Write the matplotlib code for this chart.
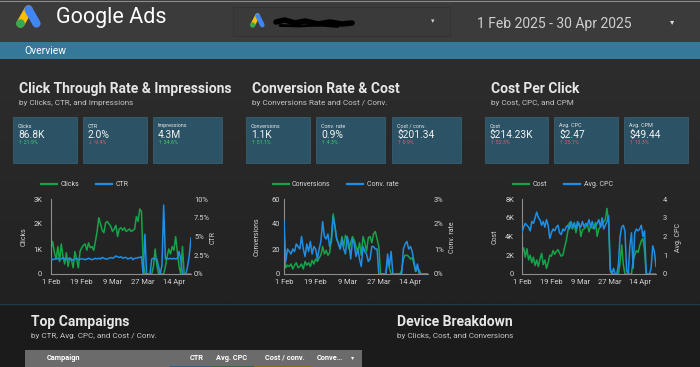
import numpy as np
import matplotlib
matplotlib.use("Agg")
import matplotlib.pyplot as plt
from matplotlib.patches import Rectangle, Circle
from matplotlib.colors import LinearSegmentedColormap

plt.rcParams['font.family'] = ['Roboto', 'DejaVu Sans']

W, H = 700, 367

# ---- data (daily, 1 Feb onwards) ----
tick_days = [0, 18, 36, 54, 72]
tick_labels = ['1 Feb', '19 Feb', '9 Mar', '27 Mar', '14 Apr']

clicks = [1000, 1300, 850, 600, 1100, 500, 1200, 700, 400, 850, 300, 650, 550, 250, 900, 600, 250,
          900, 1050, 1150, 1200, 950, 1250, 1050, 1100, 950, 1300,
          1700, 2250, 2000, 1750, 1650, 2050,
          2100, 2000, 1900, 1700, 1800, 1950, 1500, 1800, 1850, 1750, 1850, 1700, 1750, 1800, 1700, 1750, 1800,
          2300, 2100, 2600, 2500,
          450, 0, 0, 0, 0, 0, 300, 1000, 350, 0, 0, 0, 0, 300, 700, 1000, 800, 1100, 950, 1500, 900, 300,
          0, 1100, 0, 0, 0, 0, 0]
ctr = [2.1, 1.9, 2.0, 2.0, 2.1, 1.9, 2.0, 2.2, 2.0, 1.9,
       2.1, 1.9, 2.0, 1.8, 2.0, 2.1, 1.9, 2.0, 2.0, 2.0,
       1.9, 2.0, 2.1, 2.0, 1.9, 2.0, 2.1, 2.0, 2.1, 2.0,
       2.2, 2.1, 2.0, 2.0, 2.1, 2.2, 2.1, 2.2, 2.4, 2.3,
       2.2, 2.3, 2.1, 2.2, 2.2, 2.0, 2.1, 2.2, 1.9, 2.1,
       2.1, 2.2, 2.2, 2.3,
       0, 5.3, 0, 0, 0, 2.0, 2.1, 2.0, 2.0, 1.0, 0, 1.2, 9.2, 2.0, 2.1, 2.0, 2.1, 2.0, 2.1, 2.0,
       2.1, 3.0, 2.0, 0, 0, 0, 1.0, 2.5, 4.8]

conversions = [22, 5, 7, 6, 8, 4, 7, 9, 5, 6, 8, 4, 10, 7, 9, 6, 11, 8, 12, 10, 13,
               15, 22, 16, 19, 15, 17, 30, 48, 38, 28,
               25, 20, 30, 22, 31, 28, 20, 25, 30, 27, 22, 18, 25, 15, 30, 25, 18, 29, 30, 25, 32, 34, 28,
               22, 0, 0, 0, 0, 12, 5, 0, 0, 0, 0, 0, 0, 3, 12, 15, 15, 14, 12, 13, 8, 2, 5, 3,
               0, 0, 0, 0, 0]
conv_rate = [2.1, 0.5, 1.0, 0.9, 0.8, 1.0, 0.9, 1.2, 1.1, 1.0, 1.5, 1.0, 0.7, 1.2, 0.9, 1.3, 0.8, 1.1, 1.0, 0.6, 1.0,
             1.3, 2.1, 1.5, 1.4, 1.6, 1.1, 1.3, 2.3, 1.9, 1.4,
             1.2, 1.0, 1.4, 1.0, 0.8, 1.5, 1.2, 0.6, 1.4, 1.2, 0.7, 1.0, 0.6, 0.3, 1.1, 0.9, 0.8, 0.5, 0.6, 1.1,
             1.1, 1.0, 1.0,
             0, 0, 0, 0, 0, 0.8, 0.3, 0.9, 0, 0, 0, 0, 0, 0, 1.0, 1.2, 1.3, 1.0, 1.1, 0.9, 0.5, 0.1, 0.4,
             0, 0, 0, 0, 0, 0]

cost = [2.3, 2.8, 1.8, 2.7, 1.5, 2.0, 1.2, 1.8, 0.9, 1.5, 0.8, 1.6, 2.2, 1.0, 1.5, 0.6, 1.2,
        2.0, 1.9, 2.5, 2.1, 2.4, 2.6, 2.2, 1.9, 2.0, 2.8,
        3.5, 4.5, 5.5, 5.0, 4.8, 5.5, 4.4, 5.2, 5.4, 4.0, 4.7, 4.8, 5.0, 5.3, 4.5, 5.1, 4.9, 5.0, 5.5, 4.0,
        4.8, 5.0, 5.3, 5.6, 5.8, 7.0, 5.5,
        0.3, 0, 0, 0, 0, 0, 1.2, 3.1, 1.0, 0, 0, 0, 0, 0, 1.5, 2.0, 2.5, 2.3, 3.0, 3.5, 3.8, 2.5,
        0, 0, 0, 0, 0, 0, 0]  # thousands
avg_cpc = [2.2, 2.5, 2.7, 2.6, 2.5, 2.3, 2.8, 2.7, 3.0, 3.3, 3.0, 2.9, 2.6, 2.8, 2.5, 2.9, 2.6,
           1.9, 2.2, 2.4, 2.3, 2.5, 2.6, 2.2, 2.1, 2.4, 2.3,
           2.5, 2.6, 2.4, 2.8, 2.5, 2.7, 2.4, 2.8, 2.6, 2.5, 2.8, 2.5, 2.7, 2.6, 2.9, 2.5, 2.8, 2.4, 2.6,
           2.7, 2.9, 2.5, 3.0, 2.4, 2.6, 2.8, 3.1,
           0.3, 0, 0.3, 0, 0, 0.5, 2.0, 2.5, 2.6, 2.3, 0.2, 0, 1.5, 2.2, 0.3, 2.2, 2.4, 2.3, 2.4, 2.6,
           2.0, 2.3, 0, 0, 0, 0.3, 1.5, 1.2, 0.4]

section_titles = ['Click Through Rate & Impressions', 'Conversion Rate & Cost', 'Cost Per Click']
section_subtitles = ['by Clicks, CTR, and Impressions', 'by Conversions Rate and Cost / Conv.',
                     'by Cost, CPC, and CPM']
kpi_names = ['Clicks', 'CTR', 'Impressions', 'Conversions', 'Conv. rate', 'Cost / conv.',
             'Cost', 'Avg. CPC', 'Avg. CPM']
kpi_values = ['86.8K', '2.0%', '4.3M', '1.1K', '0.9%', '$201.34', '$214.23K', '$2.47', '$49.44']
kpi_changes = ['21.9%', '-9.4%', '34.6%', '51.1%', '4.3%', '0.9%', '52.5%', '25.1%', '13.3%']
kpi_up = [True, False, True, True, True, True, True, True, True]
kpi_good = [True, False, True, True, True, False, False, False, False]

table_cols = ['Campaign', 'CTR', 'Avg. CPC', 'Cost / conv.', 'Conve\u2026']

GREEN = '#17a34a'
BLUE = '#1e8fe6'
TXT = '#d6d6d6'

fig = plt.figure(figsize=(W / 100, H / 100), dpi=100)
bg = fig.add_axes([0, 0, 1, 1])
bg.set_axis_off()

# body gradient
cmap = LinearSegmentedColormap.from_list('body', ['#2d2d2d', '#212121'])
bg.imshow(np.linspace(0, 1, 100).reshape(-1, 1), extent=(0, W, 303, 59), aspect='auto', cmap=cmap)
bg.add_patch(Rectangle((0, 303), W, 64, fc='#1b1b1b', ec='none'))
bg.plot([0, W], [303.5, 303.5], color='#1f3b47', lw=1)
bg.add_patch(Rectangle((0, 0), W, 41.5, fc='#3b3b3b', ec='none'))
bg.add_patch(Rectangle((0, 41.5), W, 17.5, fc='#34789a', ec='none'))
bg.plot([0, W], [0.5, 0.5], color='#8a8a8a', lw=0.8)
bg.set_xlim(0, W)
bg.set_ylim(H, 0)


def ads_logo(cx, top, bot, half, lw, r):
    bg.plot([cx - half, cx], [bot, top], color='#fbbc04', lw=lw, solid_capstyle='round')
    bg.plot([cx, cx + half], [top, bot], color='#4285f4', lw=lw, solid_capstyle='round')
    bg.add_patch(Circle((cx - half, bot), r, fc='#34a853', ec='none', zorder=5))


ads_logo(28.5, 9.5, 23.5, 8, 6.0, 4.3)
bg.text(56, 17.5, 'Google Ads', color='white', fontsize=15.5, va='center', ha='left')

# account dropdown
bg.add_patch(Rectangle((234, 9), 217, 28, fc='#2a2a2a', ec='none', alpha=0.6))
bg.add_patch(Rectangle((233, 7), 217, 29, fc='#3a3a3a', ec='#333333', lw=0.6))
ads_logo(257.5, 15.5, 25, 4.8, 3.4, 2.6)
bg.plot([276, 285, 295, 305, 318, 330, 342, 352], [22, 20, 23, 21, 24, 22, 24, 23], color='black', lw=4,
        solid_capstyle='round')
bg.plot([280, 300, 320, 338], [25.5, 26, 25, 26.5], color='black', lw=2, solid_capstyle='round')
bg.text(433, 21.5, '\u25be', color='#cccccc', fontsize=5, ha='center', va='center')

bg.text(477, 24, '1 Feb 2025 - 30 Apr 2025', color='#cfcfcf', fontsize=10, va='center', ha='left')
bg.text(672, 22.5, '\u25be', color='#dddddd', fontsize=6, ha='center', va='center')
bg.text(24.5, 50.5, 'Overview', color='white', fontsize=7.5, va='center', ha='left')

# section headers and KPI cards
title_x = [19, 252, 491]
card_x = [(13, 77), (83, 147), (153, 222), (246, 310), (316, 385), (392, 461),
          (485, 548), (554, 618), (624, 688)]
for i in range(3):
    bg.text(title_x[i], 89, section_titles[i], color='#e6e6e6', fontsize=10, fontweight='bold',
            va='center', ha='left')
    bg.text(title_x[i], 103, section_subtitles[i], color='#c4c4c4', fontsize=5.9, va='center', ha='left')

for i, (x0, x1) in enumerate(card_x):
    bg.add_patch(Rectangle((x0, 117), x1 - x0, 46, fc='#2c5265', ec='#3b6478', lw=0.5))
    bg.text(x0 + 5, 126, kpi_names[i], color='#e8e8e8', fontsize=3.9, va='center', ha='left')
    bg.text(x0 + 5, 135, kpi_values[i], color='#f2f2f2', fontsize=7.4, va='center', ha='left')
    arrow = '\u2191' if kpi_up[i] else '\u2193'
    bg.text(x0 + 5, 143, arrow + ' ' + kpi_changes[i], color='#3ccf6e' if kpi_good[i] else '#e35d6a',
            fontsize=3.8, va='center', ha='left', family=['Roboto', 'DejaVu Sans'])


def line_chart(l, r, lv, rv, lticks, lfmt, rticks, rfmt, names, ylabels, ylab_x, leg_x, pads):
    ax = fig.add_axes([l / W, 1 - 274 / H, (r - l) / W, 75 / H])
    ax2 = ax.twinx()
    days = np.arange(len(lv))
    h1, = ax.plot(days, lv, color=GREEN, lw=1.1)
    h2, = ax2.plot(days, rv, color=BLUE, lw=1.1)
    for a in (ax, ax2):
        a.patch.set_visible(False)
        for s in a.spines.values():
            s.set_visible(False)
        a.set_xlim(0, len(lv) - 1)
    ax.spines['left'].set_visible(True)
    ax.spines['bottom'].set_visible(True)
    ax.spines['left'].set_color('#8c8c8c')
    ax.spines['bottom'].set_color('#8c8c8c')
    ax.spines['left'].set_linewidth(0.8)
    ax.spines['bottom'].set_linewidth(0.8)
    ax.set_ylim(lticks[0], lticks[-1])
    ax2.set_ylim(rticks[0], rticks[-1])
    ax.set_yticks(lticks, lfmt)
    ax2.set_yticks(rticks, rfmt)
    ax.set_xticks(tick_days, tick_labels)
    ax.tick_params(axis='y', length=0, labelsize=5.4, colors=TXT, pad=pads[0] * 0.72)
    ax.tick_params(axis='x', length=0, labelsize=5.4, colors=TXT, pad=3.4)
    ax2.tick_params(axis='y', length=0, labelsize=5.4, colors=TXT, pad=pads[1] * 0.72)
    leg = ax2.legend([h1, h2], names, loc='center', bbox_to_anchor=(leg_x / W, 1 - 185 / H),
                     bbox_transform=fig.transFigure, ncol=2, frameon=False, fontsize=5,
                     labelcolor=TXT, handlelength=2.3, handletextpad=0.5, columnspacing=2.4)
    for ln in leg.get_lines():
        ln.set_linewidth(1.6)
    bg.text(ylab_x[0], 237, ylabels[0], color=TXT, fontsize=5, rotation=90, ha='center', va='center')
    bg.text(ylab_x[1], 237, ylabels[1], color=TXT, fontsize=5, rotation=90, ha='center', va='center')


line_chart(51, 191, clicks, ctr, [0, 1000, 2000, 3000], ['0', '1K', '2K', '3K'],
           [0, 2.5, 5, 7.5, 10], ['0%', '2.5%', '5%', '7.5%', '10%'], ['Clicks', 'CTR'],
           ['Clicks', 'CTR'], (24.5, 213), 84.5, (9, 3))
line_chart(284, 428, conversions, conv_rate, [0, 20, 40, 60], ['0', '20', '40', '60'],
           [0, 1, 2, 3], ['0%', '1%', '2%', '3%'], ['Conversions', 'Conv. rate'],
           ['Conversions', 'Conv. rate'], (257.5, 452), 335.5, (4, 6))
line_chart(522, 656, cost, avg_cpc, [0, 2, 4, 6, 8], ['0', '2K', '4K', '6K', '8K'],
           [0, 1, 2, 3, 4], ['0', '1', '2', '3', '4'], ['Cost', 'Avg. CPC'],
           ['Cost', 'Avg. CPC'], (495.5, 678.5), 563, (8, 7))

# bottom sections
bg.text(31, 322, 'Top Campaigns', color='#e6e6e6', fontsize=10, fontweight='bold', va='center', ha='left')
bg.text(31, 336, 'by CTR, Avg. CPC, and Cost / Conv.', color='#c4c4c4', fontsize=5.9, va='center', ha='left')
bg.text(397, 322, 'Device Breakdown', color='#e6e6e6', fontsize=10, fontweight='bold', va='center', ha='left')
bg.text(397, 336, 'by Clicks, Cost, and Conversions', color='#c4c4c4', fontsize=5.9, va='center', ha='left')

bg.add_patch(Rectangle((24.5, 350), 337, 17, fc='#6b6b6b', ec='none'))
for x0, x1, c in [(170, 210, '#2a5f86'), (210, 254, '#2a6b45'), (254, 312, '#8a6a1e')]:
    bg.add_patch(Rectangle((x0, 365.5), x1 - x0, 1.5, fc=c, ec='none'))
col_x = [47, 190, 216.5, 265, 317]
for x, name in zip(col_x, table_cols):
    bg.text(x, 357.5, name, color='white', fontsize=5.3, fontweight='bold', va='center', ha='left')
bg.text(353, 357.5, '\u25be', color='white', fontsize=4.5, va='center', ha='center')

fig.savefig('out.png', dpi=100, facecolor='#222222')
